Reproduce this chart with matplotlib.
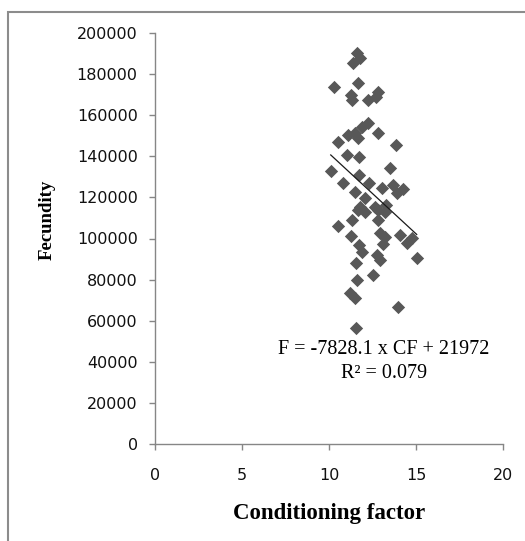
import matplotlib
matplotlib.use("Agg")
import matplotlib.pyplot as plt
import matplotlib.patches as patches
import numpy as np

# Data
cf = [11.6, 11.4, 11.8, 10.29, 11.69, 11.26, 11.34, 12.26, 12.84, 12.7,
      12.26, 11.88, 11.49, 11.11, 11.69, 12.84, 10.54, 13.85,
      11.02, 11.74, 13.5, 10.1, 10.79, 11.74, 12.32, 13.03, 13.7, 14.27, 11.49,
      12.07, 11.78, 12.64, 13.3, 13.89,
      11.69, 12.07, 12.84, 13.22, 11.3, 12.84, 10.54, 11.26, 12.93, 13.22,
      14.08, 14.75, 14.47, 11.72, 11.88, 13.12, 12.74, 12.93, 15.04, 11.53,
      12.55, 11.63, 11.21, 11.49, 13.95, 11.53]
fecundity = [190100, 185500, 187700, 173600, 175500, 169800, 167400, 167400, 171400, 169000,
             156000, 154400, 151200, 150400, 148800, 151200, 147100, 145500,
             140600, 139800, 134200, 133000, 126900, 130900, 126900, 124800, 126000, 123900, 122800,
             119600, 115500, 115500, 116300, 122000,
             113900, 113000, 113900, 113000, 109000, 109000, 106200, 101400, 102500, 100900,
             101700, 100100, 97700, 96800, 93600, 97200, 92000, 89500, 90400, 87900,
             82200, 79800, 73300, 70900, 66800, 56300]

slope = -7828.1
intercept = 219720
eq_text = "F = -7828.1 x CF + 21972"
r2_text = "R\u00b2 = 0.079"

x_ticks = [0, 5, 10, 15, 20]
y_ticks = [0, 20000, 40000, 60000, 80000, 100000, 120000, 140000, 160000, 180000, 200000]

W, H = 525, 541
fig = plt.figure(figsize=(W / 100, H / 100), dpi=100)
fig.patch.set_facecolor("white")

# outer frame (top and left visible)
fig.patches.append(patches.Rectangle((7.5 / W, -0.5), 2.0, 1.5 - 12 / H,
                                     transform=fig.transFigure, fill=False,
                                     edgecolor="#8c8c8c", lw=1.5, zorder=0))

ax = fig.add_axes([155 / W, 1 - 444 / H, (503 - 155) / W, (444 - 33) / H])
ax.set_facecolor("none")

ax.scatter(cf, fecundity, marker="D", s=46, color="#585858", linewidths=0, zorder=3)

xs = np.array([min(cf), max(cf)])
ax.plot(xs, slope * xs + intercept, color="#1a1a1a", lw=0.9, zorder=4)

ax.set_xlim(0, 20)
ax.set_ylim(0, 200000)
ax.set_xticks(x_ticks)
ax.set_yticks(y_ticks)
ax.set_xticklabels([str(t) for t in x_ticks])
ax.set_yticklabels([str(t) for t in y_ticks])

for s in ["top", "right"]:
    ax.spines[s].set_visible(False)
for s in ["left", "bottom"]:
    ax.spines[s].set_color("#868686")
    ax.spines[s].set_linewidth(1.0)

ax.tick_params(axis="both", direction="out", length=4.5, width=1.0, color="#868686",
               labelsize=11.5, labelcolor="#111111")
ax.tick_params(axis="x", pad=13)
ax.tick_params(axis="y", pad=8)

serif = ["Liberation Serif", "DejaVu Serif"]
fig.text(329 / W, 1 - 513 / H, "Conditioning factor", ha="center", va="center",
         fontsize=16.5, fontweight="bold", family=serif)
fig.text(47 / W, 1 - 220 / H, "Fecundity", ha="center", va="center", rotation=90,
         fontsize=13.5, fontweight="bold", family=serif)

fig.text(384 / W, 1 - 350 / H, eq_text, ha="center", va="center", fontsize=14.5, family=serif)
fig.text(384 / W, 1 - 373 / H, r2_text, ha="center", va="center", fontsize=14.5, family=serif)

fig.savefig("out.png", dpi=100, facecolor="white")
